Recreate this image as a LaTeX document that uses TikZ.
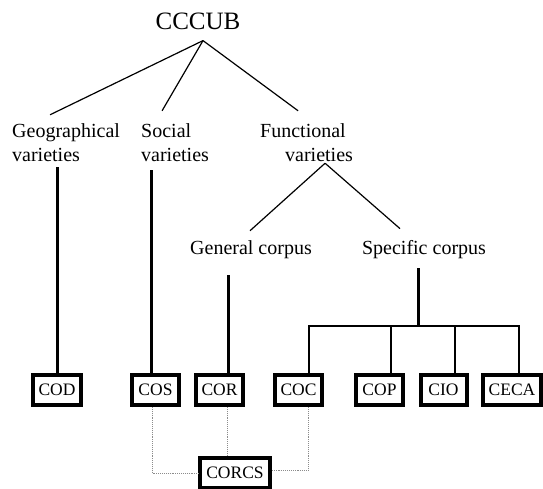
\documentclass[tikz,border=0pt]{standalone}
\usepackage{fontspec}
\setmainfont{Liberation Serif}
\usetikzlibrary{calc}
\begin{document}
\begin{tikzpicture}[x=1pt,y=-1pt,
  lbl/.style={inner sep=2pt, align=left, font=\fontsize{20}{24}\selectfont},
  cbox/.style={draw, line width=4pt, minimum width=46pt, minimum height=30pt, inner xsep=6pt, inner ysep=2pt, font=\fontsize{17.5}{20}\selectfont},
  thk/.style={line width=3pt},
  thn/.style={line width=1.2pt},
  dotline/.style={densely dotted, black!45, line width=0.9pt}]
\useasboundingbox (0,0) rectangle (543,488);
\node[inner sep=2pt, font=\fontsize{25}{30}\selectfont] (cccub) at (198,21){CCCUB};
\node[lbl, anchor=west] (geo) at (10,143){Geographical\\varieties};
\node[lbl, anchor=west] (soc) at (139,143){Social\\varieties};
\node[lbl, anchor=west] (fun) at (258,143){Functional\\\hspace*{25pt}varieties};
\node[lbl] (gen) at (251,250){General corpus};
\node[lbl] (spe) at (424,250){Specific corpus};
\node[cbox] (cod) at (57,390){COD};
\node[cbox] (cos) at (155.5,390){COS};
\node[cbox] (cor) at (219.5,390){COR};
\node[cbox] (coc) at (298.5,390){COC};
\node[cbox] (cop) at (379.5,390){COP};
\node[cbox] (cio) at (443.5,390){CIO};
\node[cbox] (ceca) at (512,390){CECA};
\node[cbox] (corcs) at (235,473){CORCS};
\coordinate (bar) at (418,326);
% top level
\draw[thn] ($(cccub.south)+(5,9)$) -- ($(geo.north)+(-16,-7)$);
\draw[thn] ($(cccub.south)+(5,9)$) -- ($(soc.north)+(-13,-11)$);
\draw[thn] ($(cccub.south)+(5,9)$) -- ($(fun.north)+(-8.5,-11)$);
\draw[thk] ($(geo.south -| cod.north)+(0,3)$) -- (cod.north);
\draw[thk] ($(soc.south -| cos.north)+(-4,6)$) -- ($(cos.north)+(-4,0)$);
\draw[thn] ($(fun.south)+(18.5,-1)$) -- ($(gen.north)+(-1,-8)$);
\draw[thn] ($(fun.south)+(18.5,-1)$) -- ($(spe.north)+(-24,-10)$);
% corpora
\draw[thk] ($(gen.south -| cor.north)+(8.5,14)$) -- ($(cor.north)+(8.5,0)$);
\draw[thk] ($(bar |- spe.south)+(0,7)$) -- (bar);
\draw[thn] ($(coc.north)+(10.5,0)$) |- (bar);
\draw[thn] ($(cop.north)+(11.5,0)$) |- (bar);
\draw[thn] ($(cio.north)+(11.5,0)$) |- (bar);
\draw[thn] ($(ceca.north)+(7,0)$) |- (bar);
% corcs
\draw[dotline] ($(cos.south)+(-3.5,0)$) |- (corcs.west);
\draw[dotline] ($(cor.south)+(7.5,0)$) -- ($(cor.south |- corcs.north)+(7.5,0)$);
\draw[dotline] ($(coc.south)+(10,0)$) |- ($(corcs.east)+(0,-3)$);
\end{tikzpicture}
\end{document}
